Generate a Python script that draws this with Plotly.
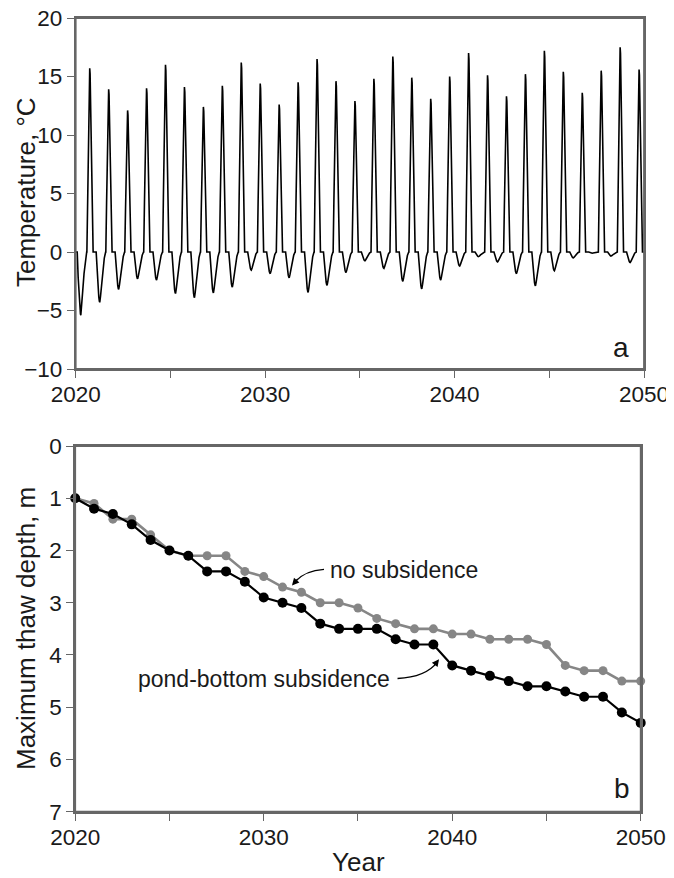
import plotly.graph_objects as go

# ---------------- data ----------------
# Panel a: annual temperature extremes (°C), one cycle per year 2020..2049
cycle_years = list(range(2020, 2050))
summer_peaks = [15.7, 13.9, 12.1, 14.0, 16.0, 14.1, 12.4, 14.2, 16.2, 14.4,
                12.6, 14.5, 16.5, 14.6, 12.9, 14.8, 16.7, 14.9, 13.1, 15.0,
                17.0, 15.1, 13.3, 15.2, 17.2, 15.4, 13.6, 15.5, 17.5, 15.6]
winter_troughs = [-5.4, -4.3, -3.2, -2.3, -2.4, -3.55, -3.9, -3.5, -3.0, -1.55,
                  -1.85, -2.2, -3.45, -2.85, -1.75, -0.75, -1.4, -2.5, -3.15, -2.4,
                  -1.2, -0.4, -0.85, -1.85, -2.9, -1.6, -0.5, -0.1, -0.35, -0.9]
# within-year waveform (fraction of year, fraction of the extreme)
trough_phase = [0.08, 0.13, 0.18, 0.22, 0.25, 0.27, 0.31, 0.37, 0.44, 0.51, 0.58]
trough_frac = [0.0, 0.40, 0.72, 0.90, 0.98, 1.0, 0.88, 0.62, 0.34, 0.12, 0.0]
peak_phase = [0.59, 0.63, 0.67, 0.71, 0.74, 0.76, 0.79, 0.83, 0.87, 0.92]
peak_frac = [0.0, 0.30, 0.62, 0.90, 1.0, 0.97, 0.75, 0.45, 0.15, 0.0]

# Panel b: maximum thaw depth (m)
years_b = list(range(2020, 2051))
no_subsidence = [1.0, 1.1, 1.4, 1.4, 1.7, 2.0, 2.1, 2.1, 2.1, 2.4,
                 2.5, 2.7, 2.8, 3.0, 3.0, 3.1, 3.3, 3.4, 3.5, 3.5,
                 3.6, 3.6, 3.7, 3.7, 3.7, 3.8, 4.2, 4.3, 4.3, 4.5, 4.5]
pond_bottom = [1.0, 1.2, 1.3, 1.5, 1.8, 2.0, 2.1, 2.4, 2.4, 2.6,
               2.9, 3.0, 3.1, 3.4, 3.5, 3.5, 3.5, 3.7, 3.8, 3.8,
               4.2, 4.3, 4.4, 4.5, 4.6, 4.6, 4.7, 4.8, 4.8, 5.1, 5.3]

x_ticks = [2020, 2025, 2030, 2035, 2040, 2045, 2050]
x_ticktext = ["2020", "", "2030", "", "2040", "", "2050"]

# ---------------- build temperature line ----------------
tx, ty = [2020.0], [0.0]
for yr, pk, tr in zip(cycle_years, summer_peaks, winter_troughs):
    for p, f in zip(trough_phase, trough_frac):
        tx.append(yr + p)
        ty.append(tr * f)
    for p, f in zip(peak_phase, peak_frac):
        tx.append(yr + p)
        ty.append(pk * f)
tx.append(2050.0)
ty.append(0.0)

FONT = "Liberation Sans, Arial, Helvetica, sans-serif"
TXT = "#1a1a1a"
AX = "#666666"
LW = 1.8

# page offset (body margin) compensation: figure drawn from (8, 8) in the window
OFF = 8
W, H = 674 - OFF, 878 - OFF


def px(x):
    return (x - OFF) / W


def py(y):
    return 1 - (y - OFF) / H


# panel boxes in window pixels (left, right, top, bottom)
BOX_A = (75.7, 644.0, 18.0, 369.0)
BOX_B = (75.2, 640.7, 446.0, 811.7)

fig = go.Figure()
fig.add_trace(go.Scatter(x=tx, y=ty, mode="lines", line=dict(color="black", width=1.6),
                         xaxis="x", yaxis="y", showlegend=False, hoverinfo="skip",
                         cliponaxis=False))
fig.add_trace(go.Scatter(x=years_b, y=no_subsidence, mode="lines+markers",
                         line=dict(color="#868686", width=2.6),
                         marker=dict(color="#868686", size=9),
                         xaxis="x2", yaxis="y2", showlegend=False, cliponaxis=False))
fig.add_trace(go.Scatter(x=years_b, y=pond_bottom, mode="lines+markers",
                         line=dict(color="black", width=2.2),
                         marker=dict(color="black", size=10),
                         xaxis="x2", yaxis="y2", showlegend=False, cliponaxis=False))

common_x = dict(range=[2020, 2050], tickvals=x_ticks, ticktext=x_ticktext,
                ticks="outside", ticklen=7, tickwidth=1.4, tickcolor=AX,
                showline=True, linecolor=AX, linewidth=LW, mirror=True,
                showgrid=False, zeroline=False, automargin=False,
                ticklabelstandoff=-3, ticklabeloverflow="allow",
                tickfont=dict(family=FONT, size=22.5, color=TXT))
common_y = dict(ticks="outside", ticklen=7, tickwidth=1.4, tickcolor=AX,
                showline=True, linecolor=AX, linewidth=LW, mirror=True,
                showgrid=False, zeroline=False, automargin=False,
                ticklabeloverflow="allow",
                tickfont=dict(family=FONT, size=22.5, color=TXT))

fig.update_layout(
    template="none",
    width=W, height=H, margin=dict(l=0, r=0, t=0, b=0, pad=0),
    paper_bgcolor="white", plot_bgcolor="white",
    xaxis=dict(domain=[px(BOX_A[0]), px(BOX_A[1])], anchor="y", **common_x),
    yaxis=dict(domain=[py(BOX_A[3]), py(BOX_A[2])], anchor="x", range=[-10, 20],
               tickvals=[-10, -5, 0, 5, 10, 15, 20], **common_y),
    xaxis2=dict(domain=[px(BOX_B[0]), px(BOX_B[1])], anchor="y2", **common_x),
    yaxis2=dict(domain=[py(BOX_B[3]), py(BOX_B[2])], anchor="x2", range=[7, 0],
                tickvals=[0, 1, 2, 3, 4, 5, 6, 7], **common_y),
)

# plot frames (all four sides), in paper coordinates so they are never clipped
for (l, r, t, b) in (BOX_A, BOX_B):
    fig.add_shape(type="rect", xref="paper", yref="paper",
                  x0=px(l), x1=px(r), y0=py(b), y1=py(t),
                  line=dict(color=AX, width=LW), fillcolor="rgba(0,0,0,0)",
                  layer="above")

# axis titles
fig.add_annotation(text="Temperature, °C", xref="paper", yref="paper",
                   x=px(26), y=py(192), textangle=-90, showarrow=False,
                   xanchor="center", yanchor="middle",
                   font=dict(family=FONT, size=26, color=TXT))
fig.add_annotation(text="Maximum thaw depth, m", xref="paper", yref="paper",
                   x=px(26), y=py(629), textangle=-90, showarrow=False,
                   xanchor="center", yanchor="middle",
                   font=dict(family=FONT, size=26, color=TXT))
fig.add_annotation(text="Year", xref="paper", yref="paper",
                   x=px(358), y=py(862), showarrow=False,
                   xanchor="center", yanchor="middle",
                   font=dict(family=FONT, size=26, color=TXT))

# panel labels
fig.add_annotation(text="a", xref="x", yref="y", x=2048.8, y=-8.2, showarrow=False,
                   font=dict(family=FONT, size=28, color=TXT))
fig.add_annotation(text="b", xref="x2", yref="y2", x=2049.0, y=6.55, showarrow=False,
                   font=dict(family=FONT, size=28, color=TXT))

# series labels with curved arrows
fig.add_annotation(text="no subsidence", xref="x2", yref="y2", x=2033.4, y=2.38,
                   xanchor="left", showarrow=False,
                   font=dict(family=FONT, size=23, color=TXT))
fig.add_shape(type="path", xref="x2", yref="y2",
              path="M 2033.2,2.36 Q 2032.2,2.38 2031.65,2.6",
              line=dict(color="black", width=1.3))
fig.add_annotation(text="", xref="x2", yref="y2", x=2031.5, y=2.67, ax=7, ay=-8,
                   showarrow=True, arrowhead=2, arrowsize=1.1, arrowwidth=1.3,
                   arrowcolor="black", standoff=0)

fig.add_annotation(text="pond-bottom subsidence", xref="x2", yref="y2", x=2036.8, y=4.46,
                   xanchor="right", showarrow=False,
                   font=dict(family=FONT, size=23, color=TXT))
fig.add_shape(type="path", xref="x2", yref="y2",
              path="M 2037.1,4.45 Q 2038.6,4.42 2039.2,4.14",
              line=dict(color="black", width=1.3))
fig.add_annotation(text="", xref="x2", yref="y2", x=2039.3, y=4.08, ax=-6, ay=8,
                   showarrow=True, arrowhead=2, arrowsize=1.1, arrowwidth=1.3,
                   arrowcolor="black", standoff=0)

fig.write_html("out.html", config={"displayModeBar": False})
